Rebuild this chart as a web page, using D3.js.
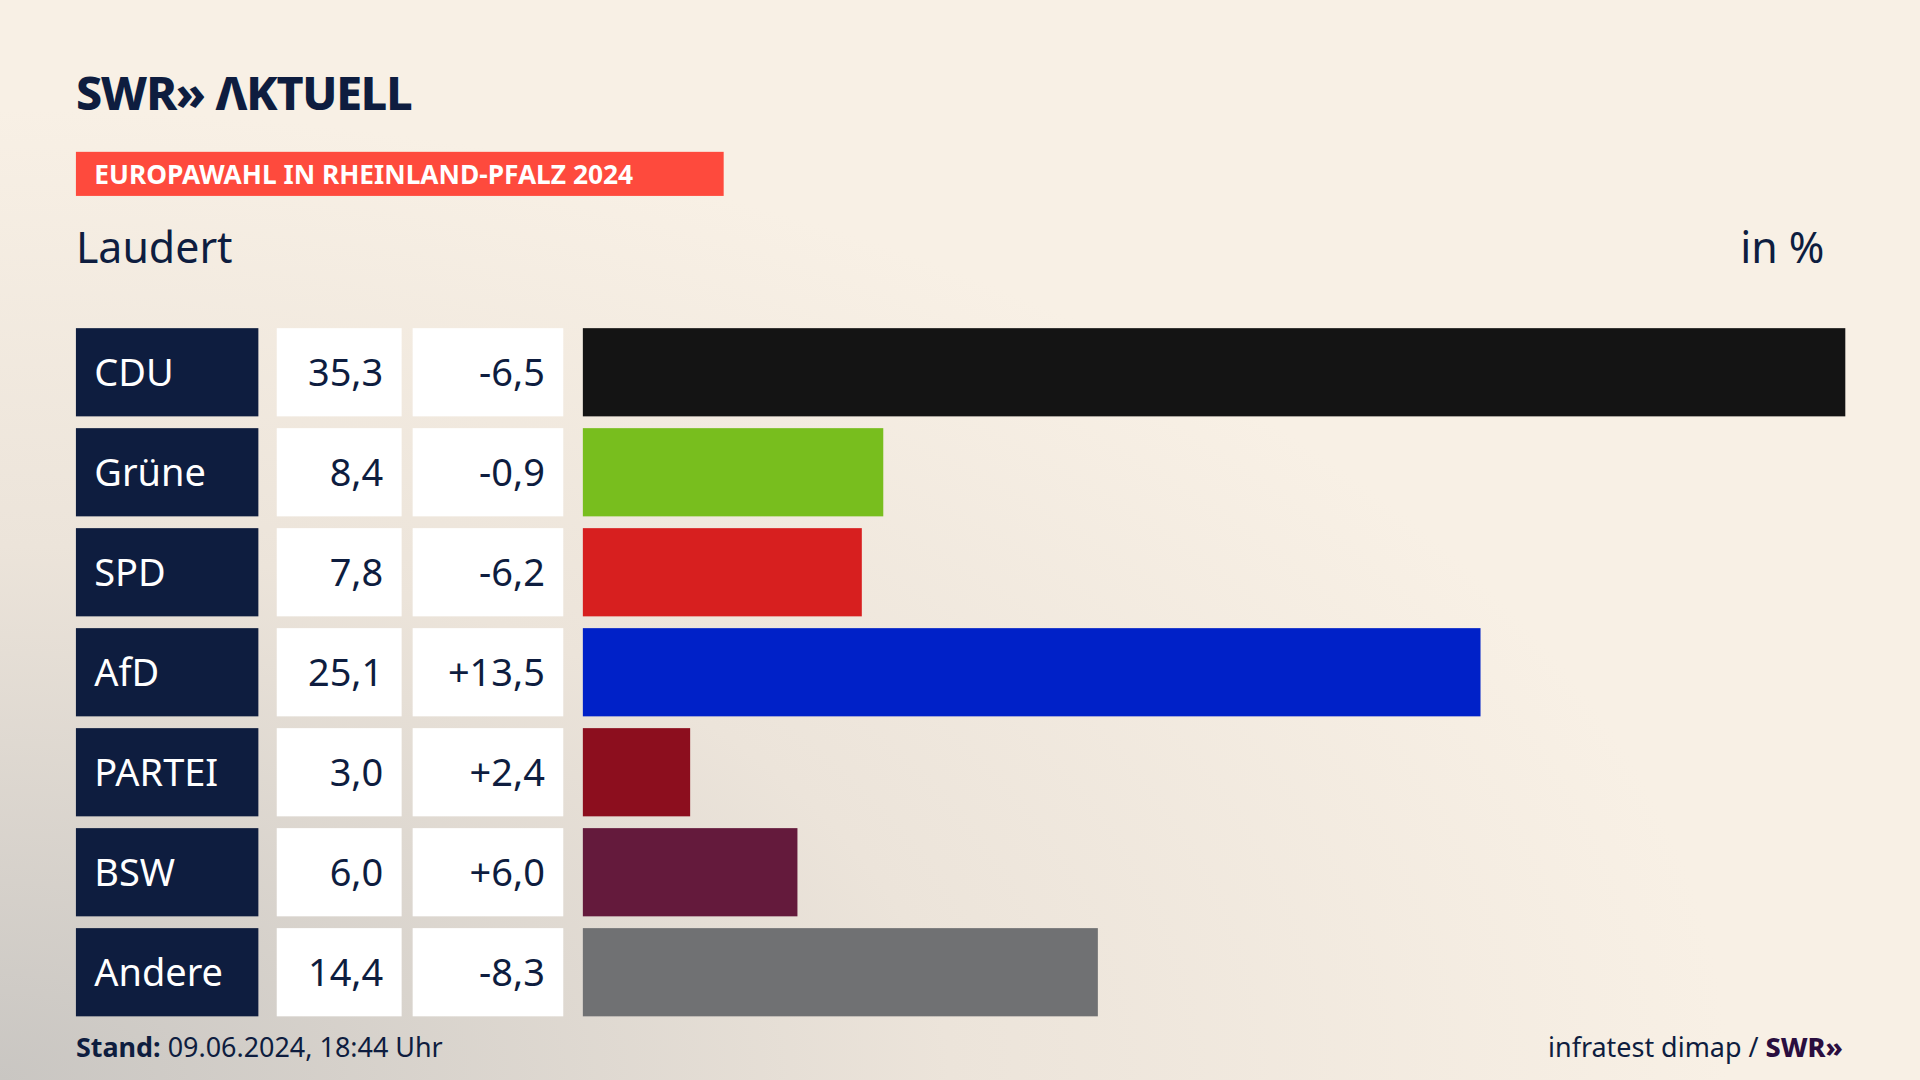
<!DOCTYPE html>
<html><head><meta charset="utf-8">
<script src="https://cdn.jsdelivr.net/npm/d3@7"></script>
<style>html,body{margin:0;padding:0;overflow:hidden;background:#f8efe4}</style>
</head><body>
<svg id="c" width="1920" height="1080" viewBox="0 0 1568 882"></svg>
<script>
const parties = ["CDU","Grüne","SPD","AfD","PARTEI","BSW","Andere"];
const values = [35.3,8.4,7.8,25.1,3.0,6.0,14.4];
const diffs = ["-6,5","-0,9","-6,2","+13,5","+2,4","+6,0","-8,3"];
const colors = ["#141414","#78be1e","#d71f1f","#0021c8","#8c0e1e","#641a3c","#707173"];

const svg = d3.select("#c");
const F = "'Noto Sans', 'Open Sans', sans-serif";
const defs = svg.append("defs");
const g1 = defs.append("radialGradient").attr("id","bg").attr("cx","0").attr("cy","1").attr("r","0.9");
g1.append("stop").attr("offset","0").attr("stop-color","#c9c6c2");
g1.append("stop").attr("offset","0.55").attr("stop-color","#ece4da");
g1.append("stop").attr("offset","1").attr("stop-color","#f8f0e5");
svg.append("rect").attr("width",1568).attr("height",882).attr("fill","url(#bg)");

svg.append("text").attr("x",62).attr("y",90).attr("font-family",F).attr("font-weight",800)
  .attr("font-size",38).attr("fill","#0e1d3f").attr("letter-spacing",-1).text("SWR» ΛKTUELL");
svg.append("rect").attr("x",62).attr("y",124).attr("width",529).attr("height",36).attr("fill","#fe4a3d");
svg.append("text").attr("x",77).attr("y",150).attr("font-family",F).attr("font-weight",700)
  .attr("font-size",21.5).attr("fill","#fff").text("EUROPAWAHL IN RHEINLAND-PFALZ 2024");
svg.append("text").attr("x",62).attr("y",215).attr("font-family",F).attr("font-size",35).attr("fill","#0e1d3f").text("Laudert");
svg.append("text").attr("x",1490).attr("y",215).attr("text-anchor","end").attr("font-family",F).attr("font-size",35).attr("fill","#0e1d3f").text("in %");

const y = d3.scaleBand().domain(parties).range([268,830]).paddingInner(0.118).paddingOuter(0);
const x = d3.scaleLinear().domain([0,35.3]).range([476,1507]);
const fmt = v => v.toFixed(1).replace(".",",");
const rows = svg.selectAll("g.row").data(parties).join("g").attr("class","row");
rows.append("rect").attr("x",62).attr("y",d=>y(d)).attr("width",149).attr("height",y.bandwidth()).attr("fill","#0e1d3f");
rows.append("rect").attr("x",226).attr("y",d=>y(d)).attr("width",102).attr("height",y.bandwidth()).attr("fill","#fff");
rows.append("rect").attr("x",337).attr("y",d=>y(d)).attr("width",123).attr("height",y.bandwidth()).attr("fill","#fff");
rows.append("rect").attr("x",x(0)).attr("y",d=>y(d)).attr("width",(d,i)=>x(values[i])-x(0)).attr("height",y.bandwidth()).attr("fill",(d,i)=>colors[i]);
const ty = d=>y(d)+y.bandwidth()/2+11;
rows.append("text").attr("x",77).attr("y",ty).attr("font-family",F).attr("font-size",31).attr("fill","#fff").text(d=>d);
rows.append("text").attr("x",313).attr("y",ty).attr("text-anchor","end").attr("font-family",F).attr("font-size",31).attr("fill","#0e1d3f").text((d,i)=>fmt(values[i]));
rows.append("text").attr("x",445).attr("y",ty).attr("text-anchor","end").attr("font-family",F).attr("font-size",31).attr("fill","#0e1d3f").text((d,i)=>diffs[i]);

const ft = svg.append("text").attr("x",62).attr("y",863).attr("font-family",F).attr("font-size",22).attr("fill","#0e1d3f");
ft.append("tspan").attr("font-weight",700).text("Stand:");
ft.append("tspan").text(" 09.06.2024, 18:44 Uhr");
const fr = svg.append("text").attr("x",1505).attr("y",863).attr("text-anchor","end").attr("font-family",F).attr("font-size",22).attr("fill","#0e1d3f");
fr.append("tspan").text("infratest dimap / ");
fr.append("tspan").attr("font-weight",800).attr("fill","#2a0e3f").text("SWR»");
</script>
</body></html>
